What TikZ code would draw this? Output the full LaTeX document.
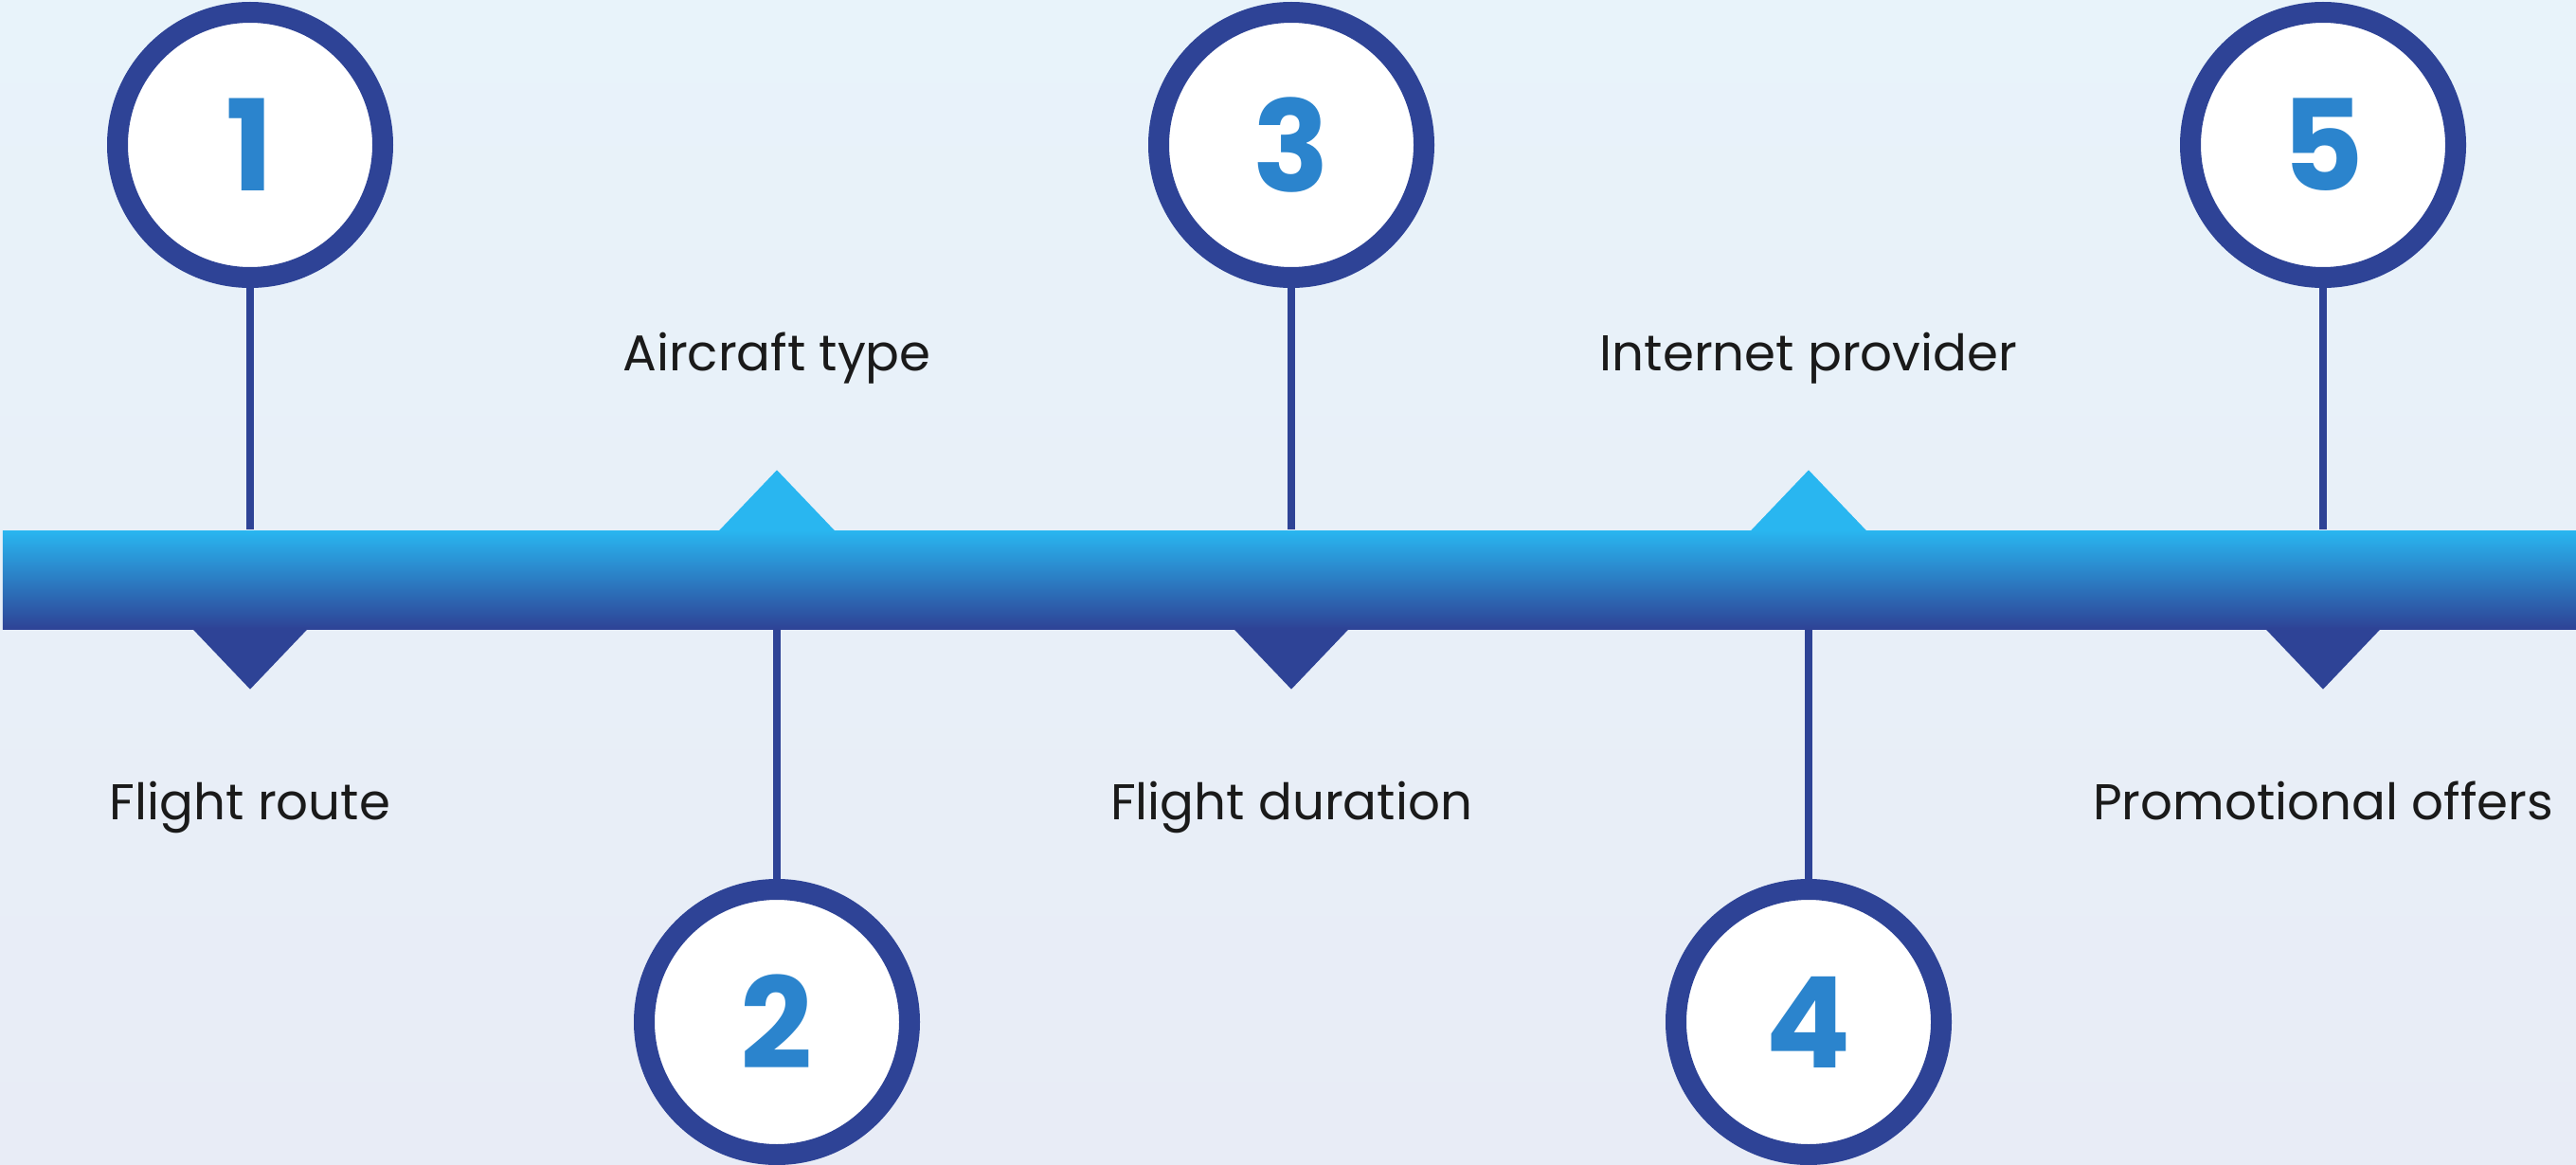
\documentclass[tikz,border=0pt]{standalone}
\usepackage{fontspec}
\setmainfont{Poppins}
\usepackage{tikz}
\usetikzlibrary{positioning}

\definecolor{navy}{RGB}{46,67,150}
\definecolor{sky}{RGB}{41,182,240}
\definecolor{numblue}{RGB}{43,132,205}
\definecolor{bgtop}{RGB}{232,243,250}
\definecolor{bgbot}{RGB}{232,236,246}
\definecolor{ink}{RGB}{26,26,26}

\tikzset{
  stage/.style={circle,draw=navy,line width=0.22cm,fill=white,minimum size=2.8cm,
    inner sep=0pt,text=numblue,font=\fontsize{38pt}{40pt}\selectfont\bfseries},
  band/.style={rectangle,minimum width=27.16cm,minimum height=1.04cm,inner sep=0pt,
    top color=sky,bottom color=navy},
  stem/.style={draw=navy,line width=0.08cm},
  caption/.style={text=ink,font=\fontsize{15.1pt}{18pt}\selectfont,
    text height=0.75em,text depth=0.25em},
  tipup/.style={fill=sky},
  tipdown/.style={fill=navy}
}

\begin{document}
\begin{tikzpicture}[node distance=5.45cm,on grid]
  \fill[top color=bgtop,bottom color=bgbot] (0,0) rectangle (27.19,-12.30);
  \useasboundingbox (0,0) rectangle (27.19,-12.30);

  \node[band] (line) at (13.61,-6.12) {};

  \node[stage] (c1) at (2.64,-1.53) {1};
  \node[stage] (c2) [below right=9.26cm and 5.56cm of c1] {2};
  \node[stage] (c3) [above right=9.26cm and 5.43cm of c2] {3};
  \node[stage] (c4) [below right=9.26cm and 5.46cm of c3] {4};
  \node[stage] (c5) [above right=9.26cm and 5.43cm of c4] {5};

  % markers on the band
  \foreach \c in {c1,c3,c5}
    \fill[tipdown] (\c |- line.south) ++(-0.62,0.02) -- ++(0.62,-0.65) -- ++(0.62,0.65) -- cycle;
  \foreach \c in {c2,c4}
    \fill[tipup] (\c |- line.north) ++(-0.62,-0.02) -- ++(0.62,0.65) -- ++(0.62,-0.65) -- cycle;

  % stems
  \foreach \c in {c1,c3,c5}
    \draw[stem] (\c.south) -- (\c.south |- line.north);
  \foreach \c in {c2,c4}
    \draw[stem] (\c.north) -- (\c.north |- line.south);

  \node[caption] (l1) at (c1 |- 0,-8.57) {Flight route};
  \node[caption] (l2) at (c2 |- 0,-3.83) {Aircraft type};
  \node[caption] (l3) at (c3 |- 0,-8.57) {Flight duration};
  \node[caption] (l4) at (c4 |- 0,-3.83) {Internet provider};
  \node[caption] (l5) at (c5 |- 0,-8.57) {Promotional offers};
\end{tikzpicture}
\end{document}
